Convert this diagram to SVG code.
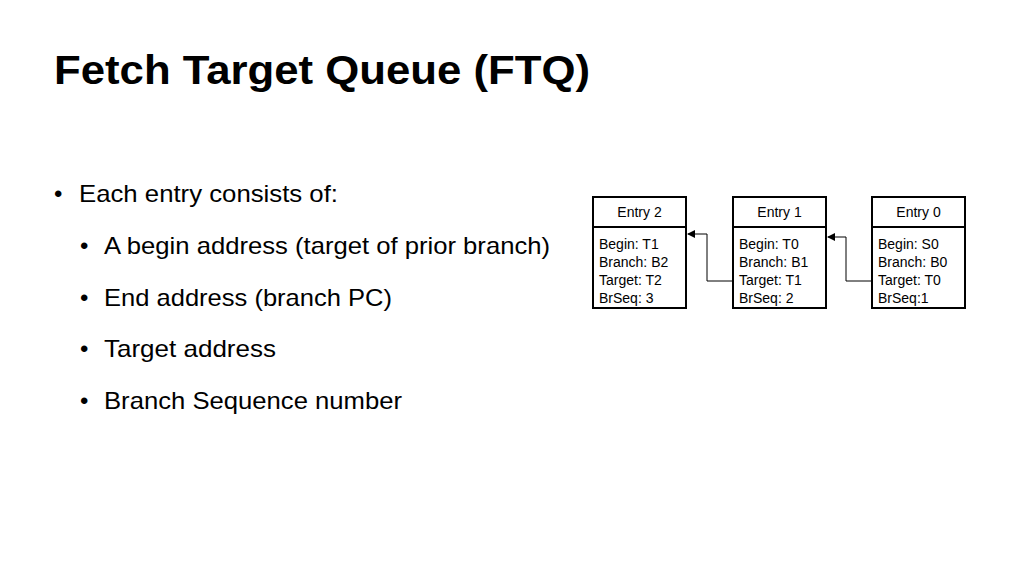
<svg xmlns="http://www.w3.org/2000/svg" width="1024" height="576" viewBox="0 0 1024 576">
<defs>
<style>
text{font-family:"Liberation Sans",Arial,sans-serif;fill:#000}
.b{fill:#fff;stroke:#000;stroke-width:2}
.c{fill:none;stroke:#000;stroke-width:1}
.t{font-size:14px}
.h{font-size:14px;text-anchor:middle}
.l1{font-size:24px}
</style>
<marker id="a" markerWidth="8" markerHeight="8" refX="7" refY="4" orient="auto" markerUnits="userSpaceOnUse"><path d="M0,0 L8,4 L0,8 Z"/></marker>
</defs>
<rect width="1024" height="576" fill="#fff"/>
<text x="54" y="84" style="font-size:41px;font-weight:bold" textLength="536" lengthAdjust="spacingAndGlyphs">Fetch Target Queue (FTQ)</text>
<g id="bullets">
<text x="54" y="202" class="l1">•</text><text x="79" y="202" class="l1" textLength="259" lengthAdjust="spacingAndGlyphs">Each entry consists of:</text>
<text x="80" y="254" class="l1">•</text><text x="104" y="254" class="l1" textLength="446" lengthAdjust="spacingAndGlyphs">A begin address (target of prior branch)</text>
<text x="80" y="306" class="l1">•</text><text x="104" y="306" class="l1" textLength="288" lengthAdjust="spacingAndGlyphs">End address (branch PC)</text>
<text x="80" y="357" class="l1">•</text><text x="104" y="357" class="l1" textLength="172" lengthAdjust="spacingAndGlyphs">Target address</text>
<text x="80" y="409" class="l1">•</text><text x="104" y="409" class="l1" textLength="298" lengthAdjust="spacingAndGlyphs">Branch Sequence number</text>
</g>
<g id="entry2">
<rect class="b" x="593" y="197" width="93" height="111"/><line class="b" x1="593" y1="227" x2="686" y2="227"/>
<text class="h" x="639.5" y="217">Entry 2</text>
<text class="t" x="599" y="249">Begin: T1</text><text class="t" x="599" y="267">Branch: B2</text><text class="t" x="599" y="285">Target: T2</text><text class="t" x="599" y="303">BrSeq: 3</text>
</g>
<g id="entry1">
<rect class="b" x="733" y="197" width="93" height="111"/><line class="b" x1="733" y1="227" x2="826" y2="227"/>
<text class="h" x="779.5" y="217">Entry 1</text>
<text class="t" x="739" y="249">Begin: T0</text><text class="t" x="739" y="267">Branch: B1</text><text class="t" x="739" y="285">Target: T1</text><text class="t" x="739" y="303">BrSeq: 2</text>
</g>
<g id="entry0">
<rect class="b" x="872" y="197" width="93" height="111"/><line class="b" x1="872" y1="227" x2="965" y2="227"/>
<text class="h" x="918.5" y="217">Entry 0</text>
<text class="t" x="878" y="249">Begin: S0</text><text class="t" x="878" y="267">Branch: B0</text><text class="t" x="878" y="285">Target: T0</text><text class="t" x="878" y="303">BrSeq:1</text>
</g>
<g id="connectors">
<path class="c" d="M732,281 H707 V234 H688" marker-end="url(#a)"/>
<path class="c" d="M871,281 H846 V237 H828" marker-end="url(#a)"/>
</g>
</svg>
